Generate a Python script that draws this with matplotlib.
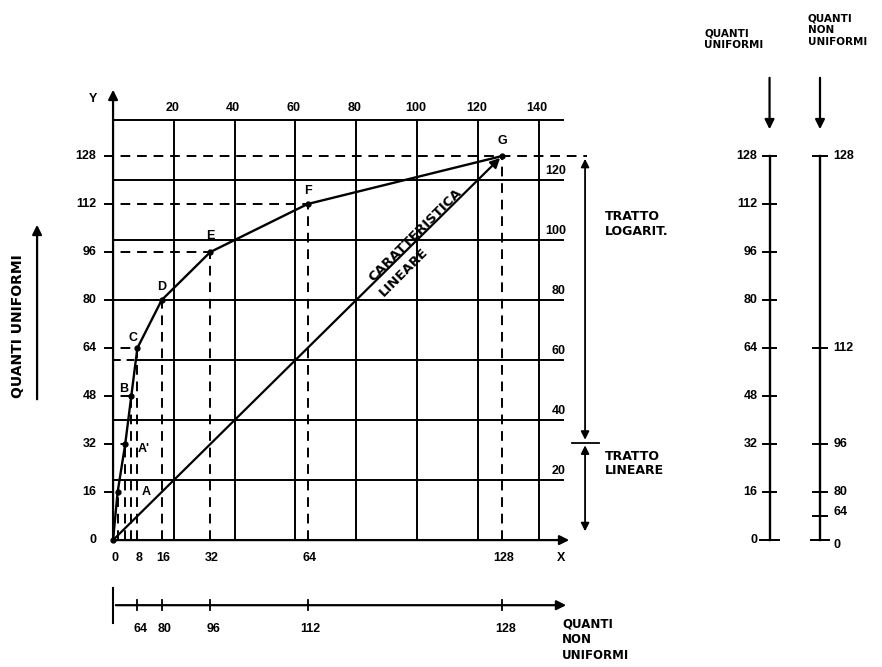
import matplotlib
matplotlib.use("Agg")
import matplotlib.pyplot as plt

plt.rcParams['font.family'] = ['Liberation Sans', 'DejaVu Sans']

# caratteristica a segmenti (x = quanti non uniformi, y = quanti uniformi)
comp_x = [0, 1.5, 4, 6, 8, 16, 32, 64, 128]
comp_y = [0, 16, 32, 48, 64, 80, 96, 112, 128]
point_names = ['', 'A', "A'", 'B', 'C', 'D', 'E', 'F', 'G']
name_dx = [0, 9.5, 6, -2.5, -1.5, 0, 0, 0, 0]
name_dy = [0, 0, -1.5, 2.5, 3.5, 4.5, 5.5, 4.5, 5]

grid_x = [20, 40, 60, 80, 100, 120, 140]
grid_y = [20, 40, 60, 80, 100, 120, 140]
top_labels = ['20', '40', '60', '80', '100', '120', '140']
right_labels = ['20', '40', '60', '80', '100', '120']
y_ticks = [0, 16, 32, 48, 64, 80, 96, 112, 128]
x_ticks = [0, 8, 16, 32, 64, 128]

# asse inferiore dei quanti non uniformi
nu_pos = [8, 16, 32, 64, 128]
nu_lab = ['64', '80', '96', '112', '128']

# scale a destra
uni_ticks = [0, 16, 32, 48, 64, 80, 96, 112, 128]
nonuni_pos = [0, 8, 16, 32, 64, 128]
nonuni_lab = ['0', '64', '80', '96', '112', '128']

fig = plt.figure(figsize=(8.82, 6.67), dpi=100)
ax = fig.add_axes([0, 0, 1, 1])
ax.set_xlim(-37.2, 253)
ax.set_ylim(-42.3, 180)
ax.axis('off')

k = 'black'
fs = 9
tkw = dict(fontsize=fs, fontweight='bold', color=k)
wkw = dict(fontweight='bold', color=k, family='DejaVu Sans')
arr = dict(arrowstyle='-|>', color=k, lw=1.6, mutation_scale=14)

# griglia
for gx in grid_x:
    ax.plot([gx, gx], [0, 140], color=k, lw=1.4)
for gy in grid_y:
    if gy == 60:
        ax.plot([0, 8], [gy, gy], color=k, lw=1.4, ls=(0, (4, 3)))
        ax.plot([8, 148], [gy, gy], color=k, lw=1.4)
    else:
        ax.plot([0, 148], [gy, gy], color=k, lw=1.4)

for gx, lab in zip(grid_x, top_labels):
    ax.text(gx - 0.5, 144, lab, ha='center', va='center', **tkw)
for gy, lab in zip(grid_y[:-1], right_labels):
    ax.text(149, gy + 3, lab, ha='right', va='center', **tkw)

# assi
ax.annotate('', xy=(0, 151), xytext=(0, 0), arrowprops=arr)
ax.annotate('', xy=(151, 0), xytext=(0, 0), arrowprops=arr)
ax.text(-6.5, 147, 'Y', ha='center', va='center', **tkw)
ax.text(147.5, -6, 'X', ha='center', va='center', **tkw)
for t in y_ticks:
    ax.text(-5.5, t, str(t), ha='right', va='center', **tkw)
for t in x_ticks:
    ax.text(t + 0.5, -6, str(t), ha='center', va='center', **tkw)

# linee tratteggiate di proiezione
dash = (0, (5, 3.5))
for px, py in zip(comp_x[1:], comp_y[1:]):
    x_end = 156 if py == 128 else px
    ax.plot([-3, x_end], [py, py], color=k, lw=1.4, ls=dash)
    ax.plot([px, px], [0, py], color=k, lw=1.4, ls=dash)

# caratteristica logaritmica
ax.plot(comp_x, comp_y, color=k, lw=1.7, marker='o', ms=3.5)
for px, py, nm, dx, dy in zip(comp_x, comp_y, point_names, name_dx, name_dy):
    if nm:
        ax.text(px + dx, py + dy, nm, ha='center', va='center', **tkw)

# caratteristica lineare
ax.annotate('', xy=(comp_x[-1], comp_y[-1]), xytext=(0, 0), arrowprops=arr)
ax.text(99.3, 101.8, 'CARATTERISTICA', rotation=45, ha='center', va='center',
        rotation_mode='anchor', fontsize=9.5, **wkw)
ax.text(95.5, 89.2, 'LINEARE', rotation=45, ha='center', va='center',
        rotation_mode='anchor', fontsize=9.5, **wkw)

# tratti
ax.annotate('', xy=(155.3, 128), xytext=(155.3, 32.5),
            arrowprops=dict(arrowstyle='<|-|>', color=k, lw=1.3, mutation_scale=12))
ax.annotate('', xy=(155.3, 2), xytext=(155.3, 32.5),
            arrowprops=dict(arrowstyle='<|-|>', color=k, lw=1.3, mutation_scale=12))
ax.plot([151, 160], [32.5, 32.5], color=k, lw=1.3)
ax.text(161.8, 105.3, 'TRATTO\nLOGARIT.', ha='left', va='center', linespacing=1.15,
        fontsize=9, **wkw)
ax.text(161.8, 25.6, 'TRATTO\nLINEARE', ha='left', va='center', linespacing=1.15,
        fontsize=9, **wkw)

# etichetta sinistra
ax.text(-31.2, 71.3, 'QUANTI UNIFORMI', rotation=90, ha='center', va='center',
        fontsize=10, **wkw)
ax.annotate('', xy=(-25, 106), xytext=(-25, 46), arrowprops=arr)

# asse quanti non uniformi in basso
ax.annotate('', xy=(150, -21.7), xytext=(0, -21.7), arrowprops=arr)
ax.plot([0, 0], [-16, -27.5], color=k, lw=1.5)
for p, lab in zip(nu_pos, nu_lab):
    ax.plot([p, p], [-20, -23.4], color=k, lw=1.3)
    ax.text(p + 1, -29.5, lab, ha='center', va='center', **tkw)
ax.text(147.7, -33.3, 'QUANTI\nNON\nUNIFORMI', ha='left', va='center', linespacing=1.3,
        fontsize=8.5, **wkw)

# scale a destra
xu, xn = 216, 232.6
ax.plot([xu, xu], [0, 128], color=k, lw=1.7)
ax.plot([xn, xn], [0, 128], color=k, lw=1.7)
for t in uni_ticks:
    w = 3 if t == 0 else 2
    ax.plot([xu - w, xu + w], [t, t], color=k, lw=1.4)
    ax.text(xu - 4, t, str(t), ha='right', va='center', **tkw)
for p, lab in zip(nonuni_pos, nonuni_lab):
    w = 3 if p == 0 else 2.2
    ax.plot([xn - w, xn + w], [p, p], color=k, lw=1.4)
    yl = p + (-1.5 if p == 0 else (1.5 if p == 8 else 0))
    ax.text(xn + 4.5, yl, lab, ha='left', va='center', **tkw)
ax.annotate('', xy=(xu, 136), xytext=(xu, 155), arrowprops=arr)
ax.annotate('', xy=(xn, 136), xytext=(xn, 155), arrowprops=arr)
ax.text(194.5, 167, 'QUANTI\nUNIFORMI', ha='left', va='center', linespacing=1.2,
        fontsize=7.5, **wkw)
ax.text(228.5, 170, 'QUANTI\nNON\nUNIFORMI', ha='left', va='center', linespacing=1.2,
        fontsize=7.5, **wkw)

fig.savefig('out.png', dpi=100, facecolor='white')
